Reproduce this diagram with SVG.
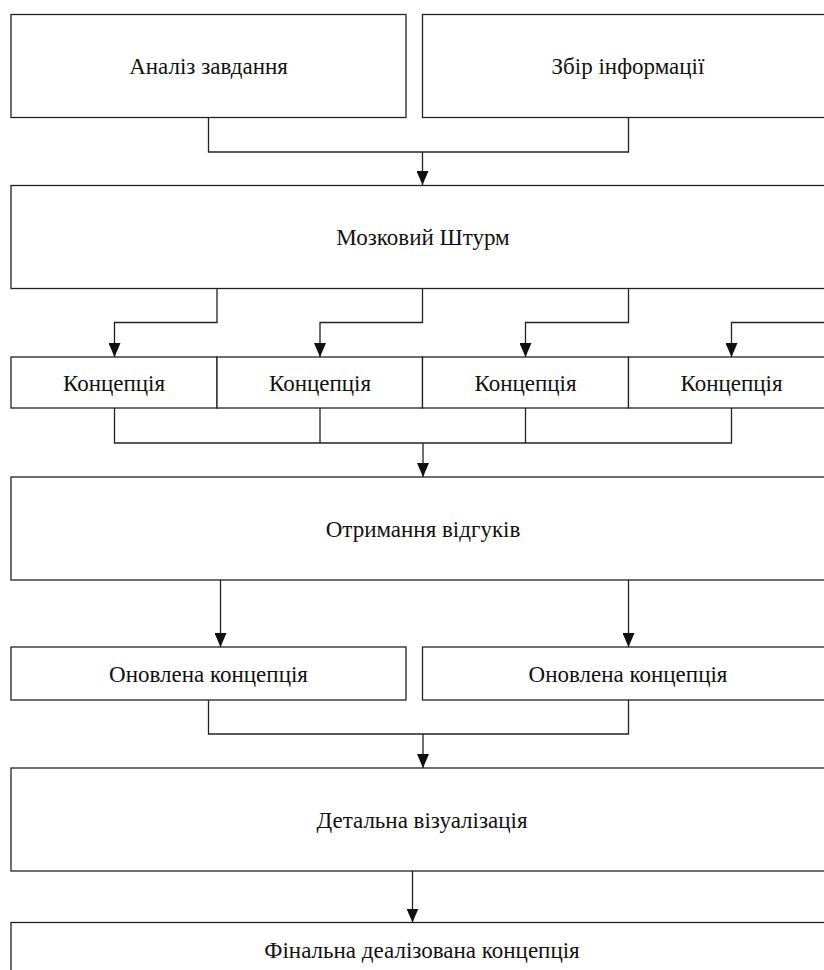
<svg xmlns="http://www.w3.org/2000/svg" width="824" height="970" viewBox="0 0 824 970">
<style>
.box{fill:#fff;stroke:#222;stroke-width:1.3}
.lbl{font-family:"Liberation Serif","Times New Roman",serif;font-size:23px;fill:#111;text-anchor:middle}
.ln{fill:none;stroke:#222;stroke-width:1.3}
</style>
<defs>
<marker id="ah" markerUnits="userSpaceOnUse" markerWidth="12" markerHeight="14" viewBox="0 0 12 14" refX="6" refY="14" orient="0">
<path d="M0,0 L12,0 L6,14 z" fill="#111"/>
</marker>
</defs>
<rect width="824" height="970" fill="#fff"/>
<g id="n-analiz"><rect class="box" x="11" y="14.5" width="395" height="103"/><text class="lbl" x="208.5" y="74">Аналіз завдання</text></g>
<g id="n-zbir"><rect class="box" x="422.5" y="14.5" width="412" height="103"/><text class="lbl" x="628" y="74">Збір інформації</text></g>
<g id="n-shturm"><rect class="box" x="11" y="185.5" width="824" height="103"/><text class="lbl" x="423" y="245">Мозковий Штурм</text></g>
<g id="n-k1"><rect class="box" x="11" y="357" width="206" height="51"/><text class="lbl" x="114" y="391">Концепція</text></g>
<g id="n-k2"><rect class="box" x="217" y="357" width="205.5" height="51"/><text class="lbl" x="320" y="391">Концепція</text></g>
<g id="n-k3"><rect class="box" x="422.5" y="357" width="206" height="51"/><text class="lbl" x="525.5" y="391">Концепція</text></g>
<g id="n-k4"><rect class="box" x="628.5" y="357" width="206" height="51"/><text class="lbl" x="731.5" y="391">Концепція</text></g>
<g id="n-vidguky"><rect class="box" x="11" y="477" width="824" height="103"/><text class="lbl" x="423" y="537">Отримання відгуків</text></g>
<g id="n-onov1"><rect class="box" x="11" y="647" width="395" height="53"/><text class="lbl" x="208.5" y="682">Оновлена концепція</text></g>
<g id="n-onov2"><rect class="box" x="422.5" y="647" width="412" height="53"/><text class="lbl" x="628" y="682">Оновлена концепція</text></g>
<g id="n-detal"><rect class="box" x="11" y="768" width="824" height="103"/><text class="lbl" x="422" y="828">Детальна візуалізація</text></g>
<g id="n-final"><rect class="box" x="11" y="922.5" width="824" height="53"/><text class="lbl" x="422" y="958">Фінальна деалізована концепція</text></g>
<g id="connectors">
<path class="ln" d="M208.5,117.5 V152 H628.5 V117.5"/>
<path class="ln" d="M422.5,152 V185" marker-end="url(#ah)"/>
<path class="ln" d="M217,288.5 V322.5 H114.5 V357" marker-end="url(#ah)"/>
<path class="ln" d="M422.5,288.5 V322.5 H320 V357" marker-end="url(#ah)"/>
<path class="ln" d="M628.5,288.5 V322.5 H525.5 V357" marker-end="url(#ah)"/>
<path class="ln" d="M835,288.5 V322.5 H731.5 V357" marker-end="url(#ah)"/>
<path class="ln" d="M114.5,408 V443 H731.5 V408"/>
<path class="ln" d="M320,408 V443"/>
<path class="ln" d="M525.5,408 V443"/>
<path class="ln" d="M423,443 V477" marker-end="url(#ah)"/>
<path class="ln" d="M220.5,580 V647" marker-end="url(#ah)"/>
<path class="ln" d="M628.5,580 V647" marker-end="url(#ah)"/>
<path class="ln" d="M208.5,700 V734 H628.5 V700"/>
<path class="ln" d="M423,734 V768" marker-end="url(#ah)"/>
<path class="ln" d="M412.5,871 V922.5" marker-end="url(#ah)"/>
</g>
</svg>
